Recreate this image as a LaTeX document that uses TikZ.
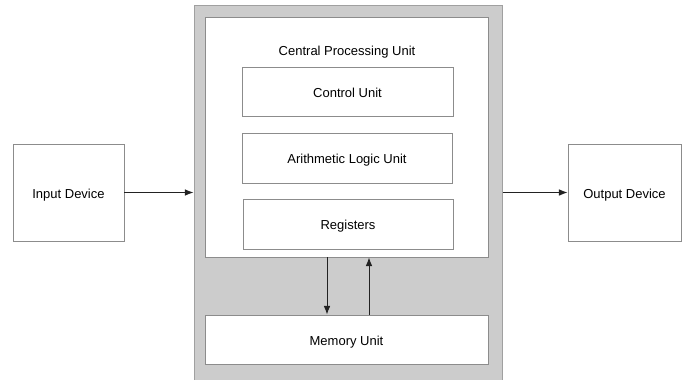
\documentclass[tikz,border=0pt]{standalone}
\usepackage{fontspec}
\setmainfont{Liberation Sans}
\usetikzlibrary{arrows.meta}
\definecolor{shade}{HTML}{CCCCCC}
\definecolor{shadeline}{HTML}{A0A0A0}
\definecolor{boxline}{HTML}{8C8C8C}
\definecolor{arrowcol}{HTML}{222222}
\tikzset{
  lbl/.style={font=\fontsize{9.75}{12}\selectfont, text height=8.5pt, text depth=0pt},
  box/.style={lbl, draw=boxline, fill=white, line width=0.6pt, inner sep=0pt},
  outerbox/.style={draw=shadeline, fill=shade, line width=0.75pt, inner sep=0pt},
  arr/.style={draw=arrowcol, line width=0.75pt, -{Latex[length=6.5pt,width=5pt]}},
}
\begin{document}
\begin{tikzpicture}[x=0.75pt,y=-0.75pt]
\useasboundingbox (0,0) rectangle (695,379);
\node[outerbox, minimum width=231pt, minimum height=288.75pt] (outer) at (348,197.5) {};
\node[box, minimum width=212.25pt, minimum height=180pt] (cpu) at (346.5,137) {};
\node[lbl] (cputitle) at (347,50) {Central Processing Unit};
\node[box, minimum width=158.25pt, minimum height=36.75pt] (cu) at (347.5,91.5) {Control Unit};
\node[box, minimum width=157.5pt, minimum height=37.5pt] (alu) at (347,158) {Arithmetic Logic Unit};
\node[box, minimum width=157.5pt, minimum height=37.5pt] (reg) at (348,224) {Registers};
\node[box, minimum width=212.25pt, minimum height=36.75pt] (mem) at (346.5,339.5) {Memory Unit};
\node[box, minimum width=83.25pt, minimum height=72.75pt] (in) at (68.5,192.5) {Input Device};
\node[box, minimum width=84.75pt, minimum height=72.75pt] (out) at (624.5,192.5) {Output Device};
\coordinate (dx) at (327,0);
\coordinate (ux) at (369,0);
\draw[arr] (in.east) -- (outer.west |- in.east);
\draw[arr] (outer.east |- out.west) -- (out.west);
\draw[arr] (cpu.south -| dx) -- (mem.north -| dx);
\draw[arr] (mem.north -| ux) -- (cpu.south -| ux);
\end{tikzpicture}
\end{document}
